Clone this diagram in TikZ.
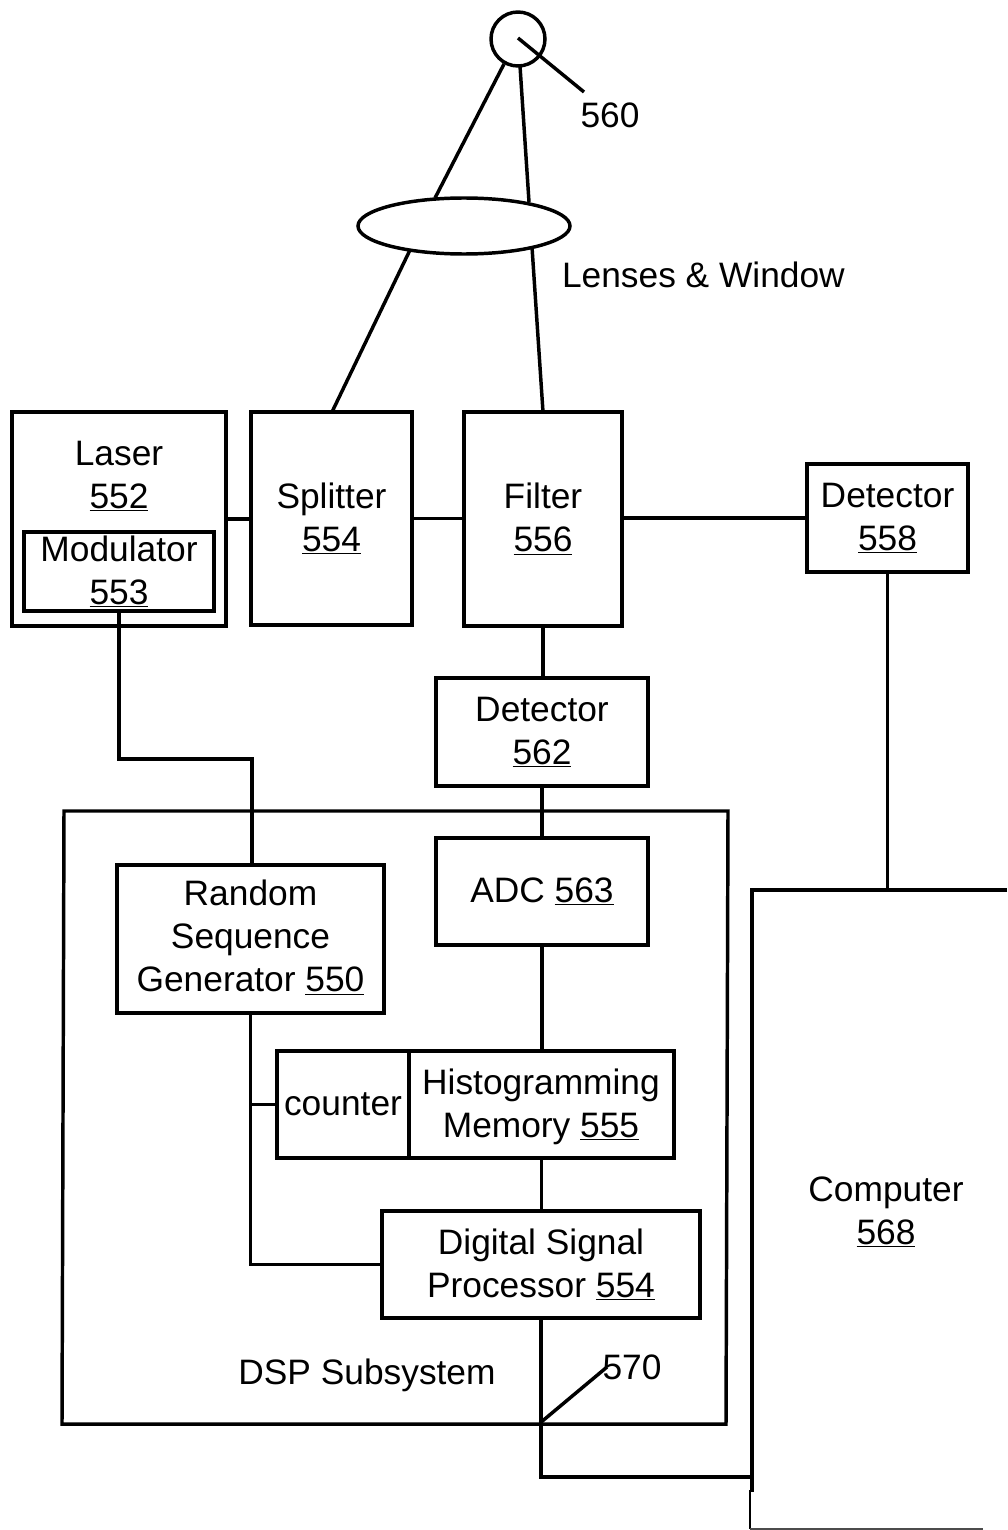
\documentclass[tikz,border=0pt]{standalone}
\usepackage{fontspec}
\setmainfont{Liberation Sans}
\usetikzlibrary{shapes.geometric,calc}
\tikzset{
  x=0.75pt,y=-0.75pt,
  txt/.style={font=\fontsize{26.5}{32.25}\selectfont,align=center,inner sep=0pt,outer sep=0pt,text=black},
  box/.style={txt,draw=black,line width=2.6pt,rectangle,inner sep=0pt,outer sep=0pt},
  conn/.style={draw=black,line width=2.6pt,line join=miter},
  thin line/.style={draw=black!70,line width=1.2pt},
}
\newcommand{\bx}[6]{%
  \pgfmathsetmacro{\bw}{(#4-#2)*0.75}%
  \pgfmathsetmacro{\bh}{(#5-#3)*0.75}%
  \pgfmathsetmacro{\bcx}{(#2+#4)/2}%
  \pgfmathsetmacro{\bcy}{(#3+#5)/2}%
  \node[box,minimum width=\bw pt,minimum height=\bh pt] (#1) at (\bcx,\bcy) {#6};}
\newcommand{\un}[1]{\underline{#1}}
\begin{document}
\begin{tikzpicture}
\useasboundingbox (0,0) rectangle (1007,1530);
% DSP subsystem frame
\coordinate (fa) at (64,811);
\coordinate (fb) at (728,811);
\coordinate (fc) at (726,1424);
\coordinate (fd) at (62,1424);
\draw[conn] (fa) -- (fb) -- (fc) -- (fd) -- cycle;
% boxes
\bx{las}{12}{412}{226}{626}{}
\bx{mod}{24}{532}{214}{611}{Modulator\\\un{553}}
\bx{spl}{251}{412}{412}{625}{Splitter\\\un{554}}
\bx{fil}{464}{412}{622}{626}{Filter\\\un{556}}
\bx{dta}{807}{464}{968}{572}{Detector\\\un{558}}
\bx{dtb}{436}{678}{648}{786}{Detector\\\un{562}}
\bx{adc}{436}{838}{648}{945}{ADC \un{563}}
\bx{rng}{117}{865}{384}{1013}{}
\bx{cnt}{277}{1051}{409}{1158}{counter}
\bx{his}{409}{1051}{674}{1158}{}
\bx{dsp}{382}{1211}{700}{1318}{Digital Signal\\Processor \un{554}}
\node[txt] (lasl) at (119,476) {Laser\\\un{552}};
\node[txt] (rngl) at (250.5,937.5) {Random\\Sequence\\Generator \un{550}};
\node[txt] (hisl) at (541,1106.5) {Histogramming\\Memory \un{555}};
% target and lens
\node[draw=black,line width=2.6pt,circle,minimum size=40.5pt,inner sep=0pt,outer sep=0pt] (tgt) at (518,39) {};
\node[draw=black,line width=2.6pt,ellipse,minimum width=159pt,minimum height=42pt,inner sep=0pt,outer sep=0pt] (lens) at (464,226) {};
% text labels
\node[txt] (l560) at (610,115) {560};
\node[txt,anchor=west] (llens) at (562,275) {Lenses \& Window};
\node[txt] (ldsp) at (367,1375) {DSP Subsystem};
\node[txt] (l570) at (632,1367) {570};
\node[txt] (comp) at (886,1212) {Computer\\\un{568}};
% computer outline
\coordinate (ctr) at (1007,890);
\coordinate (ctl) at (752,890);
\coordinate (cmid) at (752,1492);
\coordinate (cmidb) at (750,1490);
\coordinate (cbl) at (750,1529);
\coordinate (cbr) at (983,1529);
\coordinate (cin) at (752,1477);
\draw[conn] (ctr) -- (ctl) -- (cmid);
\draw[conn,line width=2pt] (cmidb) -- (cbl);
\draw[thin line] (cbl) -- (cbr);
% connectors
\draw[conn] (las.east) -- (las.east -| spl.west);
\draw[conn] (spl.east) -- (spl.east -| fil.west);
\draw[conn] (dta.west -| fil.east) -- (dta.west);
\draw[conn] (dta.south) -- (dta.south |- ctl);
\draw[conn] (fil.south) -- (fil.south |- dtb.north);
\draw[conn] (dtb.south) -- (adc.north);
\draw[conn] (adc.south) -- (adc.south |- his.north);
\draw[conn] (his.north |- his.south) -- (his.north |- dsp.north);
\coordinate (m2) at (252,759);
\draw[conn] (mod.south) -- (mod.south |- m2) -- (m2) -- (m2 |- rng.north);
\draw[conn] (rng.south) -- (rng.south |- dsp.west) -- (dsp.west);
\draw[conn] (rng.south |- cnt.west) -- (cnt.west);
\draw[conn] (dsp.south) -- (dsp.south |- cin) -- (cin);
% leaders
\coordinate (t1) at (518,38);
\coordinate (t2) at (584,92);
\draw[conn] (t1) -- (t2);
\coordinate (a1) at (504,64);
\coordinate (a2) at (435,198);
\coordinate (a3) at (410,250);
\coordinate (a4) at (332,412);
\coordinate (b1) at (520,66);
\coordinate (b2) at (529,202);
\coordinate (b3) at (532,247);
\coordinate (b4) at (543,412);
\draw[conn] (a1) -- (a2);
\draw[conn] (a3) -- (a4);
\draw[conn] (b1) -- (b2);
\draw[conn] (b3) -- (b4);
\coordinate (z1) at (540,1423);
\coordinate (z2) at (607,1367);
\draw[conn] (z1) -- (z2);
\end{tikzpicture}
\end{document}
